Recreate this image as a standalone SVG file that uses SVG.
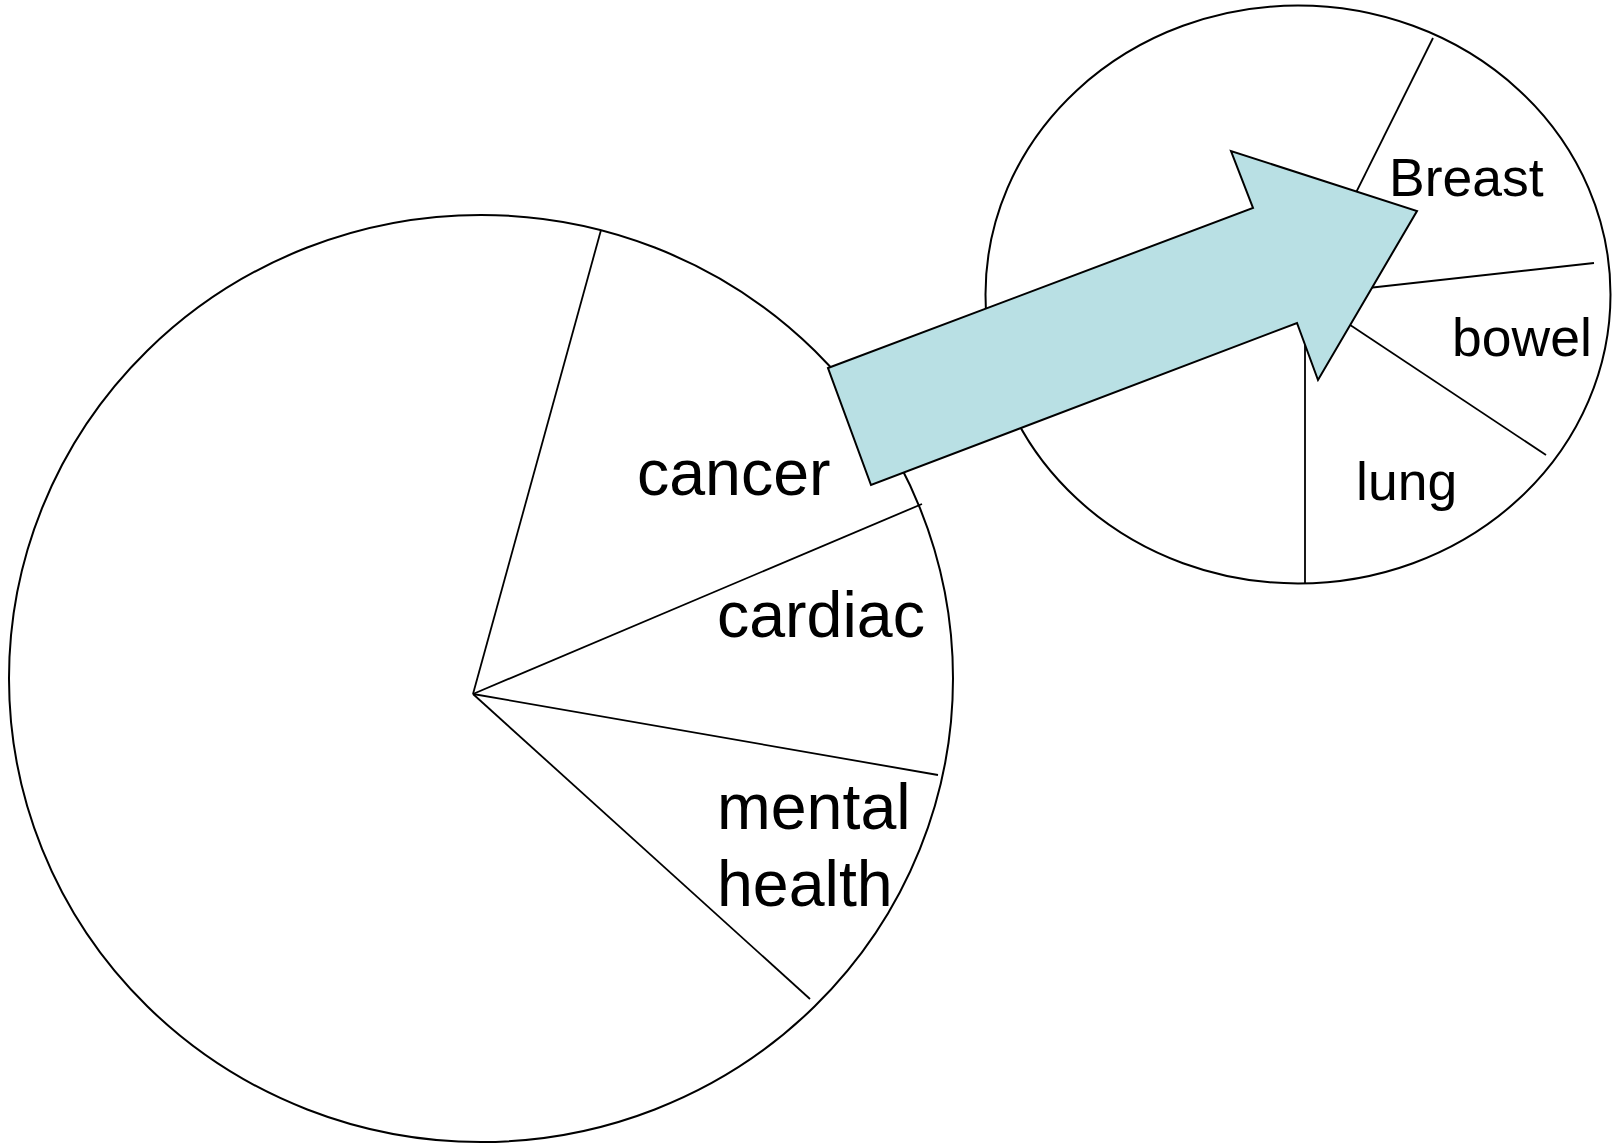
<svg xmlns="http://www.w3.org/2000/svg" width="1613" height="1145" viewBox="0 0 1613 1145">
<style>
.outline{fill:#FFFFFF;stroke:#000000;stroke-width:2}
.div{stroke:#000000;stroke-width:1.8;fill:none}
.big{font-family:"Liberation Sans",Arial,sans-serif;font-size:64.5px;fill:#000000}
.small{font-family:"Liberation Sans",Arial,sans-serif;font-size:53.5px;fill:#000000}
.arrow{fill:#B9E0E4;stroke:#000000;stroke-width:2;stroke-linejoin:miter}
</style>
<rect x="0" y="0" width="1613" height="1145" fill="#FFFFFF"/>
<g id="big-pie">
  <ellipse class="outline" cx="481" cy="678.5" rx="472" ry="463.5"/>
  <line class="div" x1="473" y1="694" x2="601" y2="230"/>
  <line class="div" x1="473" y1="694" x2="922" y2="504"/>
  <line class="div" x1="473" y1="694" x2="938" y2="775"/>
  <line class="div" x1="473" y1="694" x2="810" y2="999"/>
</g>
<g id="slice-cancer"><text class="big" x="637" y="495">cancer</text></g>
<g id="slice-cardiac"><text class="big" x="717" y="637">cardiac</text></g>
<g id="slice-mental-health"><text class="big" x="717" y="829">mental</text><text class="big" x="717" y="906">health</text></g>
<g id="small-pie">
  <ellipse class="outline" cx="1298" cy="294.5" rx="312.5" ry="289"/>
  <line class="div" x1="1305" y1="295" x2="1433" y2="38"/>
  <line class="div" x1="1305" y1="295" x2="1594" y2="263"/>
  <line class="div" x1="1305" y1="295" x2="1546" y2="455"/>
  <line class="div" x1="1305" y1="295" x2="1305" y2="583"/>
</g>
<g id="slice-breast"><text class="small" x="1389" y="196">Breast</text></g>
<g id="slice-bowel"><text class="small" x="1452" y="356">bowel</text></g>
<g id="slice-lung"><text class="small" x="1356" y="500">lung</text></g>
<g id="connectors">
  <polygon class="arrow" points="828,368 1253,208 1231,151 1417,211 1318,380 1297,323 871,485"/>
</g>
</svg>
